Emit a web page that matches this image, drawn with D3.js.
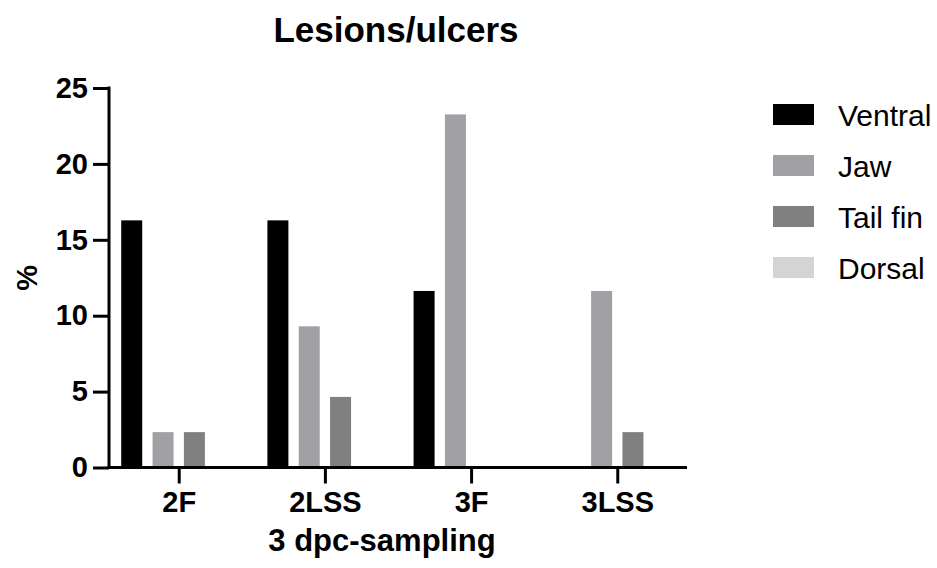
<!DOCTYPE html>
<html>
<head>
<meta charset="utf-8">
<script src="https://cdn.jsdelivr.net/npm/d3@7"></script>
<style>
  html, body { margin: 0; padding: 0; background: #fff; }
  svg { display: block; font-family: "Liberation Sans", Arial, sans-serif; }
</style>
</head>
<body>
<svg id="chart" width="937" height="568"></svg>
<script>
// ---- Data ----
const categories = ["2F", "2LSS", "3F", "3LSS"];
const seriesNames = ["Ventral", "Jaw", "Tail fin", "Dorsal"];
const ventral = [16.28, 16.28, 11.63, 0];
const jaw = [2.33, 9.30, 23.26, 11.63];
const tailFin = [2.33, 4.65, 0, 2.33];
const dorsal = [0, 0, 0, 0];
const yTicks = [0, 5, 10, 15, 20, 25];
const seriesColors = ["#000000", "#a1a0a4", "#808080", "#d4d4d4"];
const titleText = "Lesions/ulcers";
const xTitle = "3 dpc-sampling";
const yTitle = "%";

const seriesValues = [ventral, jaw, tailFin, dorsal];

const svg = d3.select("#chart");
const pLeft = 109, pRight = 687, pTop = 88, pBottom = 467.5;

const x = d3.scalePoint().domain(categories).range([pLeft, pRight]).padding(0.477);
const xs = d3.scaleBand().domain(seriesNames).range([-57.5, 57.5]).paddingInner(0.33);
const y = d3.scaleLinear().domain([0, 25]).range([pBottom, pTop]);
const color = d3.scaleOrdinal().domain(seriesNames).range(seriesColors);

// bars
const data = [];
categories.forEach((c, ci) => {
  seriesNames.forEach((s, si) => {
    data.push({ cat: c, series: s, value: seriesValues[si][ci] });
  });
});
svg.append("g").selectAll("rect")
  .data(data.filter(d => d.value > 0))
  .join("rect")
  .attr("x", d => x(d.cat) + xs(d.series))
  .attr("width", xs.bandwidth())
  .attr("y", d => y(d.value))
  .attr("height", d => y(0) - y(d.value))
  .attr("fill", d => color(d.series));

// y axis
const yAxis = svg.append("g")
  .attr("transform", `translate(${pLeft},0)`)
  .call(d3.axisLeft(y).tickValues(yTicks).tickSize(16).tickPadding(5).tickSizeOuter(0));
yAxis.select(".domain").attr("stroke", "#000").attr("stroke-width", 3)
  .attr("d", `M0,${pTop - 1.5}V${pBottom + 1.5}`);
yAxis.selectAll(".tick line").attr("stroke", "#000").attr("stroke-width", 3);
yAxis.selectAll(".tick text").attr("font-size", 29).attr("font-weight", "bold")
  .attr("fill", "#000").attr("font-family", "Liberation Sans, Arial, sans-serif");

// x axis
const xAxis = svg.append("g")
  .attr("transform", `translate(0,${pBottom})`)
  .call(d3.axisBottom(x).tickSize(16).tickPadding(8).tickSizeOuter(0));
xAxis.select(".domain").attr("stroke", "#000").attr("stroke-width", 3)
  .attr("d", `M${pLeft - 1.5},0H${pRight}`);
xAxis.selectAll(".tick line").attr("stroke", "#000").attr("stroke-width", 3);
xAxis.selectAll(".tick text").attr("font-size", 29).attr("font-weight", "bold")
  .attr("fill", "#000").attr("font-family", "Liberation Sans, Arial, sans-serif");

// titles
svg.append("text").attr("x", (pLeft + pRight) / 2 - 2).attr("y", 42)
  .attr("text-anchor", "middle").attr("font-size", 35).attr("font-weight", "bold")
  .text(titleText);
svg.append("text").attr("x", (pLeft + pRight) / 2 - 16).attr("y", 551)
  .attr("text-anchor", "middle").attr("font-size", 31).attr("font-weight", "bold")
  .text(xTitle);
svg.append("text").attr("transform", `translate(37,${(pTop + pBottom) / 2}) rotate(-90)`)
  .attr("text-anchor", "middle").attr("font-size", 29).attr("font-weight", "bold")
  .text(yTitle);

// legend
const legend = svg.append("g").attr("transform", "translate(773,104)");
const li = legend.selectAll("g").data(seriesNames).join("g")
  .attr("transform", (d, i) => `translate(0,${i * 51})`);
li.append("rect").attr("width", 41).attr("height", 21).attr("fill", d => color(d));
li.append("text").attr("x", 65).attr("y", 21.5).attr("font-size", 30)
  .attr("fill", "#000").text(d => d);
</script>
</body>
</html>
